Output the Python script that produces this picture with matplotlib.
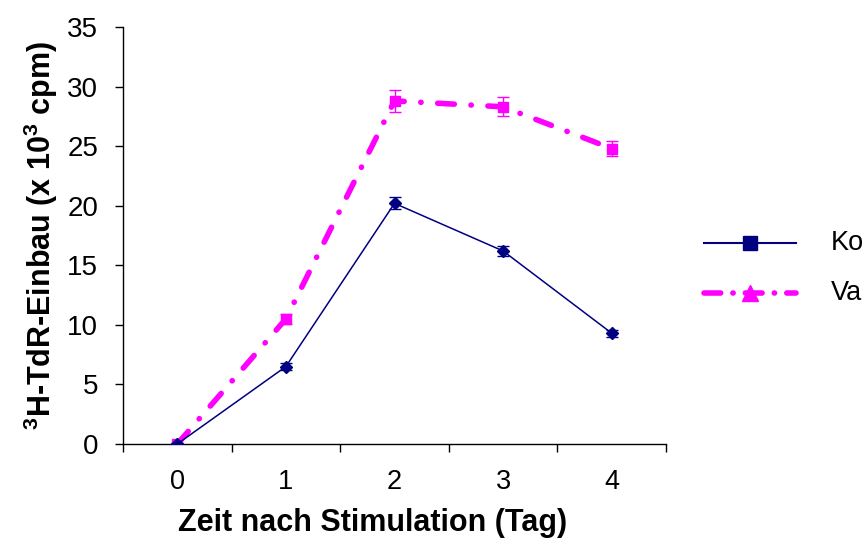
import matplotlib.pyplot as plt
from matplotlib.lines import Line2D
import numpy as np

# Thymidine incorporation after stimulation
days = [0, 1, 2, 3, 4]
kontrolle = [0.0, 6.5, 20.2, 16.2, 9.3]
kontrolle_err = [0.1, 0.3, 0.5, 0.4, 0.3]
valproat = [0.0, 10.5, 28.8, 28.3, 24.8]
valproat_err = [0.1, 0.4, 0.9, 0.8, 0.6]
legend_labels = ['Ko', 'Va']

navy = '#000080'
magenta = '#FF00FF'
dashdot = (0, (3.0, 3.0, 0.05, 3.0))

plt.rcParams['font.family'] = ['Liberation Sans', 'DejaVu Sans']
plt.rcParams['mathtext.fontset'] = 'custom'
plt.rcParams['mathtext.rm'] = 'Liberation Sans'
plt.rcParams['mathtext.bf'] = 'Liberation Sans:bold'

W, H = 867, 545
fig = plt.figure(figsize=(W / 100, H / 100), dpi=100)
ax = fig.add_axes([123 / W, 1 - 444 / H, (666 - 123) / W, (444 - 27) / H])

x = np.arange(len(days))
ax.errorbar(x, valproat, yerr=valproat_err, color=magenta, lw=4,
            ls=dashdot, dash_capstyle='round',
            marker='s', ms=7.5, ecolor=magenta, elinewidth=1, capsize=4,
            capthick=1, zorder=3)
ax.errorbar(x, kontrolle, yerr=kontrolle_err, color=navy, lw=1.1,
            marker='D', ms=6, ecolor=navy, elinewidth=1, capsize=4,
            capthick=1, zorder=4)

ax.set_xlim(-0.5, 4.5)
ax.set_ylim(0, 35)
ax.set_yticks(np.arange(0, 36, 5))
ax.set_xticks(x)
ax.set_xticklabels([str(d) for d in days])
ax.set_xticks(np.arange(-0.5, 4.6, 1), minor=True)
ax.tick_params(axis='x', which='major', length=0, labelsize=19.5, pad=18)
ax.tick_params(axis='x', which='minor', length=6, direction='out', width=1)
ax.tick_params(axis='y', length=6, direction='out', width=1, labelsize=20, pad=12)

for side in ('top', 'right'):
    ax.spines[side].set_visible(False)
for side in ('left', 'bottom'):
    ax.spines[side].set_linewidth(1)

ax.set_xlabel('Zeit nach Stimulation (Tag)', fontsize=22, fontweight='bold')
ax.xaxis.set_label_coords((373 - 123) / (666 - 123), -(508 - 444) / (444 - 27))
ax.xaxis.label.set_va('top')
ax.set_ylabel(r'$^{\mathbf{3}}$H-TdR-Einbau (x 10$^{\mathbf{3}}$ cpm)',
              fontsize=22, fontweight='bold', labelpad=5)

# legend drawn by hand in figure pixels
legend_styles = [
    dict(color=navy, lw=1.5, marker='s', ms=10),
    dict(color=magenta, lw=4, ls=(0, (3.0, 2.2, 0.05, 2.2)),
         dash_capstyle='round', marker='^', ms=12),
]
for i, (label, style) in enumerate(zip(legend_labels, legend_styles)):
    y = 1 - (243 + 50 * i) / H
    fig.add_artist(Line2D([704 / W, 750 / W, 796 / W], [y, y, y],
                          markevery=[1], **style))
    fig.text(831 / W, y, label, fontsize=19.5, va='center', ha='left')

fig.savefig('out.png', dpi=100)
